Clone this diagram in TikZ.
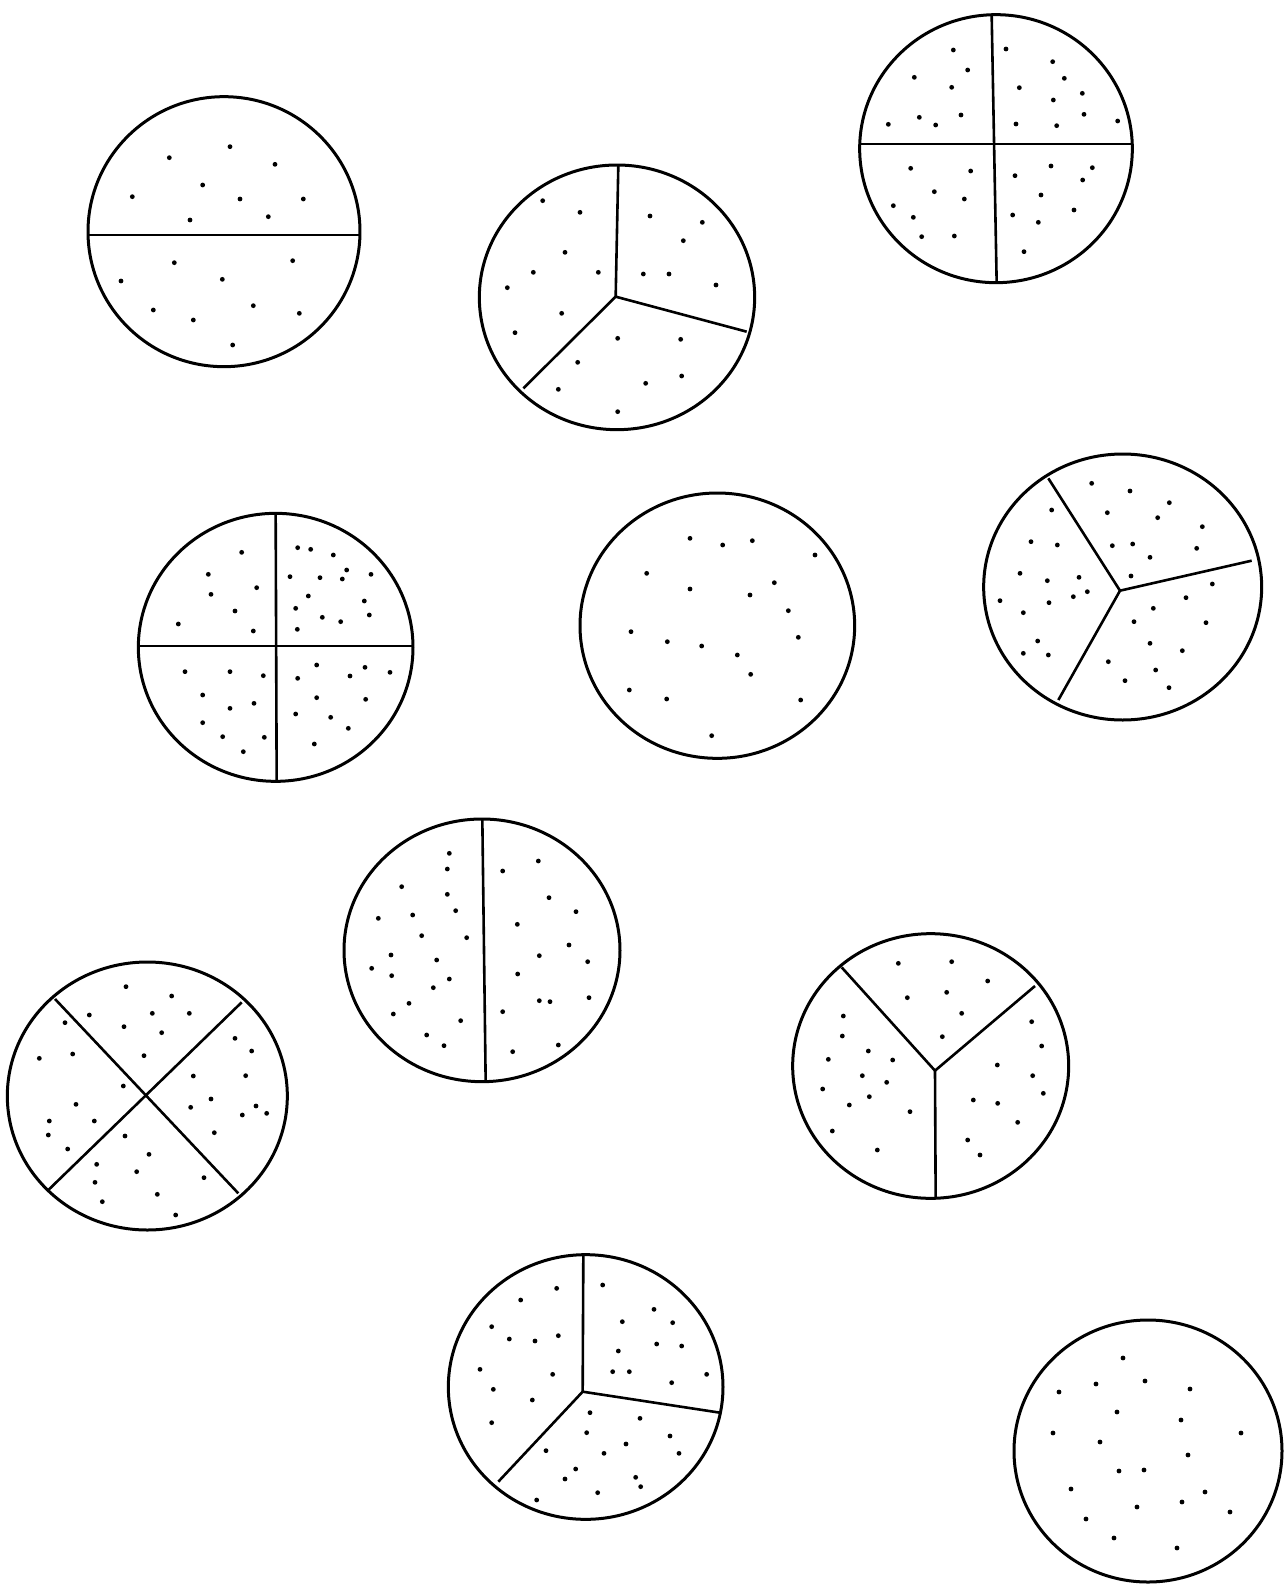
\documentclass[tikz,border=0pt]{standalone}
\begin{document}
\begin{tikzpicture}[x=1pt,y=-1pt,
  rim/.style={line width=3pt},
  cut/.style={line width=2.6pt},
  crop/.style={x=0.33333pt,y=-0.33333pt}]
\useasboundingbox (0,0) rectangle (1287,1596);
\fill[white] (0,0) rectangle (1287,1596);
\newcommand\spots[1]{\foreach \a/\b in {#1} \fill (\a,\b) circle[radius=2.4pt];}

% circle 1: half
\begin{scope}[shift={(70,80)},crop]
\draw[rim] (462,455) ellipse[x radius=408, y radius=405];
\draw[cut] (54,465) -- (870,465);
\spots{480/200,298/233,615/253,398/315,187/350,510/357,700/357,360/420,595/410,313/548,668/542,153/603,457/598,250/690,550/677,370/720,688/700,488/795}
\end{scope}

% circle 2: thirds
\begin{scope}[shift={(470,150)},crop]
\draw[rim] (441,442) ellipse[x radius=413, y radius=397];
\coordinate (c2) at (437,440);
\draw[cut] (445,45) -- (c2) -- (830,545);
\draw[cut] (c2) -- (160,715);
\spots{218/152,330/187,285/307,190/367,385/367,112/413,275/490,135/548,540/198,697/217,640/272,520/372,597/372,738/405,443/565,632/568,323/637,635/678,527/700,265/718,443/785}
\end{scope}

% circle 3: quarters
\begin{scope}[shift={(845,0)},crop]
\draw[rim] (453,446) ellipse[x radius=409, y radius=402];
\draw[cut] (440,45) -- (455,848);
\draw[cut] (45,432) -- (862,432);
\spots{325/150,368/210,208/232,320/262,223/352,348/345,130/373,272/375,483/147,623/185,658/235,523/263,712/280,625/300,717/343,513/372,635/377,818/363,197/505,377/513,268/575,358/597,145/617,205/652,230/710,328/708,510/527,618/498,742/503,713/540,588/585,687/630,503/645,580/667,537/755}
\end{scope}

% circle 4: quarters
\begin{scope}[shift={(120,495)},crop]
\draw[rim] (467,457) ellipse[x radius=412, y radius=402];
\draw[cut] (467,58) -- (470,858);
\draw[cut] (55,453) -- (880,453);
\spots{365/172,265/238,410/278,273/298,345/348,175/387,400/408,533/158,572/163,640/180,680/225,753/238,510/245,600/248,667/252,565/303,733/318,527/340,607/367,662/380,748/360,532/403,195/530,330/530,430/542,248/600,330/640,402/625,248/683,308/725,433/727,370/770,590/510,533/550,690/543,735/517,810/532,590/608,737/613,527/657,632/667,685/700,583/747}
\end{scope}

% circle 5: whole
\begin{scope}[shift={(565,480)},crop]
\draw[rim] (457,437) ellipse[x radius=412, y radius=398];
\spots{375/175,473/195,562/182,750/225,245/280,375/327,628/308,555/345,670/392,198/455,307/485,410/498,517/525,700/472,557/583,193/630,305/657,707/660,440/767}
\end{scope}

% circle 6: thirds
\begin{scope}[shift={(970,440)},crop]
\draw[rim] (458,441) ellipse[x radius=417, y radius=399];
\coordinate (c6) at (450,452);
\draw[cut] (235,115) -- (c6) -- (845,362);
\draw[cut] (c6) -- (265,780);
\spots{365/130,480/153,598/188,412/218,563/233,697/260,245/210,183/305,262/315,427/317,488/312,680/325,540/352,483/408,150/400,232/422,327/412,352/455,90/482,237/488,310/470,160/518,727/432,648/473,550/505,492/545,708/548,203/603,160/640,235/645,540/610,637/632,415/665,557/690,465/722,597/743}
\end{scope}

% circle 7: half (vertical)
\begin{scope}[shift={(330,805)},crop]
\draw[rim] (456,436) ellipse[x radius=414, y radius=394];
\draw[cut] (457,43) -- (467,829);
\spots{358/145,352/192,215/245,352/268,377/317,145/340,248/330,275/392,410/398,183/450,320/465,125/490,185/512,358/522,310/548,237/595,190/627,392/647,290/690,342/722,625/168,518/198,657/278,738/320,562/358,717/420,628/452,773/470,563/507,628/587,660/590,777/578,518/620,685/720,548/740}
\end{scope}

% circle 8: quarters (diagonal)
\begin{scope}[shift={(0,945)},crop]
\draw[rim] (442,453) ellipse[x radius=420, y radius=402];
\draw[cut] (165,162) -- (715,745);
\draw[cut] (725,172) -- (145,735);
\spots{378/125,515/153,268/210,457/205,568/205,372/245,485/263,195/233,118/340,218/327,432/332,705/280,755/318,580/393,737/392,370/423,633/462,572/487,768/483,800/505,727/510,228/478,148/528,283/528,145/570,203/612,375/573,643/563,447/628,290/658,410/680,285/712,612/698,472/748,307/770,527/810}
\end{scope}

% circle 9: thirds (Y)
\begin{scope}[shift={(780,920)},crop]
\draw[rim] (452,438) ellipse[x radius=414, y radius=397];
\coordinate (c9) at (465,452);
\draw[cut] (185,142) -- (c9) -- (765,198);
\draw[cut] (c9) -- (467,833);
\spots{355/130,515/125,623/183,382/233,500/217,545/280,487/350,190/288,187/348,265/393,145/418,338/420,247/467,320/487,128/507,268/530,208/555,390/575,157/633,292/690,755/305,785/378,652/435,758/467,790/520,580/540,653/550,713/607,563/660,600/705}
\end{scope}

% circle 10: thirds
\begin{scope}[shift={(430,1240)},crop]
\draw[rim] (467,441) ellipse[x radius=412, y radius=397];
\coordinate (c10) at (458,455);
\draw[cut] (460,46) -- (c10) -- (870,518);
\draw[cut] (c10) -- (205,725);
\spots{380/145,272/180,185/260,238/297,315/303,385/287,150/388,368/403,190/448,307/480,185/548,518/135,672/208,577/245,728/248,565/333,680/312,755/318,548/395,598/395,725/428,830/403,480/518,630/535,470/578,720/588,588/612,522/640,747/640,348/632,437/687,405/717,617/712,632/740,503/758,320/780}
\end{scope}

% circle 11: whole
\draw[rim] (1148,1451) ellipse[x radius=134, y radius=131];
\spots{1123/1358,1096/1384,1145/1381,1190/1389,1059/1392,1117/1412,1181/1420,1053/1433,1100/1442,1241/1433,1188/1455,1119/1471,1144/1470,1071/1489,1205/1492,1182/1502,1137/1507,1086/1519,1230/1512,1114/1538,1177/1548}
\end{tikzpicture}
\end{document}
